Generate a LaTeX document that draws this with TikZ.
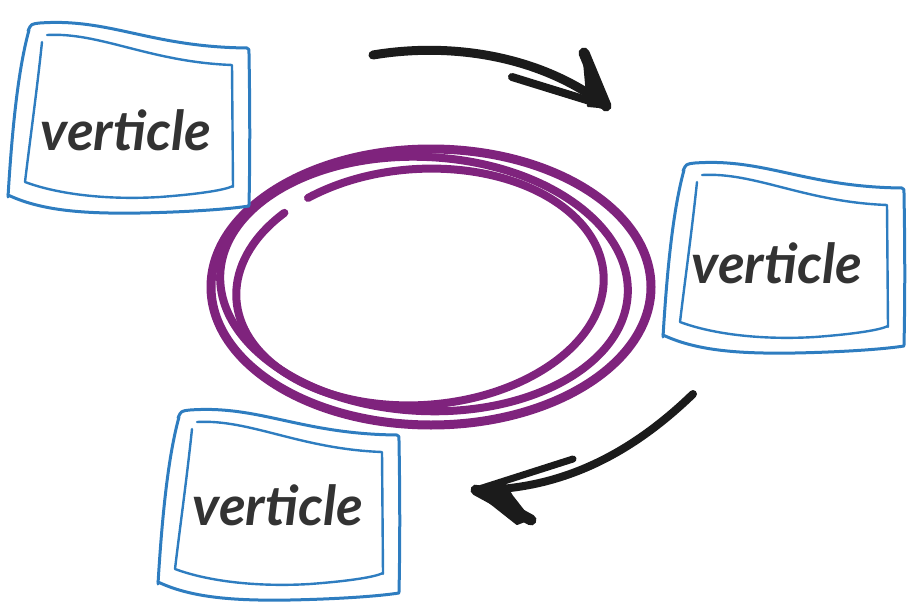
\documentclass[tikz,border=0pt]{standalone}
\usepackage{fontspec}
\newfontfamily\handfont{Lato}
\definecolor{boxblue}{RGB}{46,125,192}
\definecolor{ringviolet}{RGB}{127,35,125}
\definecolor{arrowink}{RGB}{27,27,27}
\definecolor{textink}{RGB}{51,51,51}
\tikzset{
  outerline/.style={draw=boxblue, line width=3pt, line cap=round, line join=round},
  innerline/.style={draw=boxblue, line width=2.4pt, line cap=round, line join=round},
  vtext/.style={font=\handfont\bfseries\itshape\fontsize{55}{55}\selectfont, text=textink, inner sep=0pt},
  ringline/.style={draw=ringviolet, line width=9pt},
  inkarrow/.style={draw=arrowink, line width=9pt, line cap=round, line join=round},
  inkfill/.style={fill=arrowink, draw=arrowink, line width=2pt, line join=round},
  sketchbox/.pic={
    \draw[outerline] (28,21) .. controls (31,14) .. (40,13) .. controls (110,8) and (150,37) .. (247,38)
       .. controls (249,39) .. (249,44) .. controls (250,100) and (250,150) .. (249,195);
    \draw[outerline] (8,185) .. controls (40,200) and (80,204) .. (140,203) .. controls (190,202) and (230,199) .. (249,196);
    \draw[outerline] (8,187) .. controls (12,120) and (18,60) .. (29,20);
    \draw[innerline] (47,25) .. controls (100,22) and (150,52) .. (232,55) -- (233,177);
    \draw[innerline] (42,32) .. controls (37,80) and (30,130) .. (25,172) .. controls (60,185) and (110,190) .. (160,187)
       .. controls (200,184) and (225,180) .. (233,176);
  }
}
\begin{document}
\begin{tikzpicture}[x=1pt,y=-1pt]
\useasboundingbox (0,0) rectangle (918,610);
% violet rings
\draw[ringline] (431,287) ellipse [x radius=220pt, y radius=138pt];
\draw[ringline, line width=8pt, rotate around={-3:(424,284)}] (424,284) ellipse [x radius=204pt, y radius=127pt];
\draw[ringline, line width=8pt, line cap=round, rotate around={4:(420,287)}]
  (420,287) ++(125:184pt and 118pt) arc [start angle=125, end angle=-225, x radius=184pt, y radius=118pt];
% boxes
\pic at (0,10) {sketchbox};
\pic at (655,150) {sketchbox};
\pic at (150,397) {sketchbox};
\node[vtext] (v1) at (126,130) {verticle};
\node[vtext] (v2) at (777,263) {verticle};
\node[vtext] (v3) at (278,505) {verticle};
% top arrow
\coordinate (a1s) at (373,55);
\coordinate (a1t) at (606,106);
\draw[inkarrow] (a1s) .. controls (450,42) and (540,55) .. (a1t);
\draw[inkarrow, line width=11pt] (a1t) -- (584,53);
\draw[inkarrow, line width=8pt] (a1t) -- (512,77);
\filldraw[inkfill] (584,62) -- (610,108) -- (588,106) -- cycle;
% bottom arrow
\coordinate (a2s) at (693,394);
\coordinate (a2t) at (476,490);
\draw[inkarrow, line width=8pt] (a2s) .. controls (630,455) and (560,490) .. (a2t);
\draw[inkarrow, line width=7pt] (a2t) -- (573,459);
\draw[inkarrow, line width=11pt] (a2t) -- (531,520);
\filldraw[inkfill] (474,490) -- (503,481) -- (512,496) -- (530,519) -- (517,524) -- cycle;
\end{tikzpicture}
\end{document}
